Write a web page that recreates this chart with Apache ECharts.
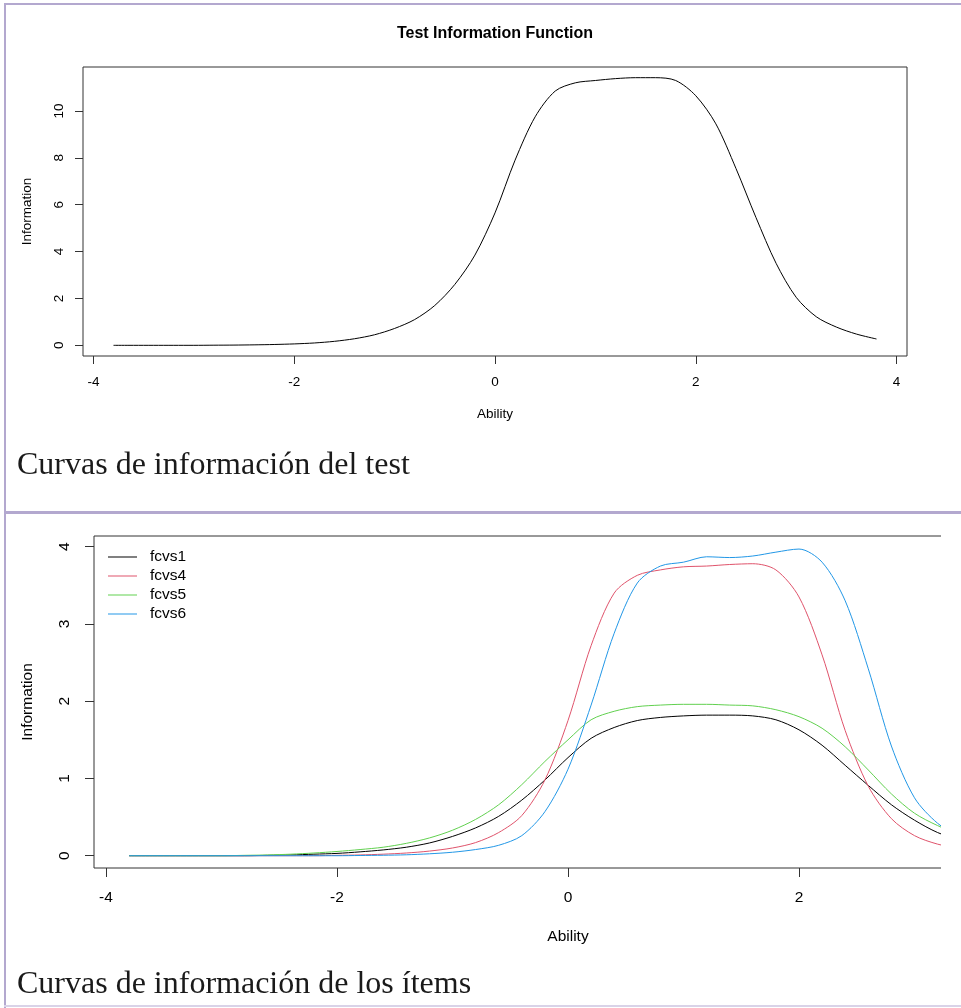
<!DOCTYPE html>
<html><head><meta charset="utf-8">
<script src="https://cdn.jsdelivr.net/npm/echarts@6/dist/echarts.min.js"></script>
<style>
html,body{margin:0;padding:0;background:#fff;width:961px;height:1008px;overflow:hidden;}
#top{position:absolute;left:0;top:0;width:961px;height:512px;}
#bot{position:absolute;left:0;top:512px;width:941px;height:496px;}
.b{position:absolute;background:#b3a8cf;}
</style></head><body>
<div id="top"></div><div id="bot"></div>
<div class="b" style="left:4px;top:3px;width:2px;height:1005px"></div>
<div class="b" style="left:4px;top:3px;width:957px;height:2px"></div>
<div class="b" style="left:4px;top:511px;width:957px;height:3px"></div>
<div class="b" style="left:4px;top:1005px;width:957px;height:2px;background:#d9d3e8"></div>
<script>
// ---- data ----
const ability = [-3.8,-3.6,-3.4,-3.2,-3.0,-2.8,-2.6,-2.4,-2.2,-2.0,-1.8,-1.6,-1.4,-1.2,-1.0,-0.8,-0.6,-0.4,-0.2,
                 0.0,0.2,0.4,0.6,0.8,1.0,1.2,1.4,1.6,1.8,2.0,2.2,2.4,2.6,2.8,3.0,3.2,3.4,3.6,3.8];
const testInfo = [0,0,0,0,0,0.005,0.01,0.02,0.035,0.06,0.1,0.17,0.28,0.45,0.72,1.1,1.7,2.6,3.85,
                  5.65,7.9,9.75,10.85,11.2,11.3,11.38,11.42,11.42,11.3,10.65,9.45,7.55,5.45,3.5,2.05,1.22,0.78,0.48,0.27];
const fcvs1 = [0,0,0,0,0,0,0.005,0.01,0.02,0.03,0.05,0.075,0.11,0.165,0.25,0.36,0.51,0.72,0.98,
               1.27,1.52,1.66,1.75,1.79,1.81,1.82,1.82,1.81,1.76,1.63,1.43,1.17,0.91,0.66,0.46,0.3,0.2,0.13,0.07];
const fcvs4 = [0,0,0,0,0,0,0,0,0,0.005,0.01,0.02,0.035,0.06,0.1,0.17,0.3,0.52,0.98,
               1.75,2.72,3.4,3.63,3.7,3.74,3.75,3.77,3.78,3.7,3.35,2.6,1.62,0.9,0.48,0.26,0.15,0.09,0.05,0.03];
const fcvs5 = [0,0,0,0,0,0.005,0.01,0.02,0.035,0.055,0.08,0.11,0.16,0.23,0.33,0.47,0.66,0.92,1.22,
               1.5,1.76,1.87,1.93,1.95,1.96,1.96,1.95,1.94,1.89,1.8,1.65,1.41,1.11,0.8,0.55,0.39,0.27,0.18,0.1];
const fcvs6 = [0,0,0,0,0,0,0,0,0,0,0.003,0.006,0.012,0.025,0.045,0.08,0.135,0.26,0.57,
               1.12,1.95,2.88,3.53,3.75,3.8,3.87,3.86,3.88,3.93,3.97,3.8,3.3,2.42,1.42,0.75,0.42,0.24,0.14,0.07];
const itemNames = ['fcvs1','fcvs4','fcvs5','fcvs6'];
const itemColors = ['#000000','#DF536B','#61D04F','#2297E6'];
const xTicks = [-4,-2,0,2,4];
const yTicksTop = [0,2,4,6,8,10];
const yTicksBot = [0,1,2,3,4];
const titleTop = 'Test Information Function';
const xName = 'Ability';
const yName = 'Information';
const captionTop = 'Curvas de información del test';
const captionBot = 'Curvas de información de los ítems';

const SANS = "'Liberation Sans', Arial, sans-serif";
const SERIF = "'Liberation Serif', 'Times New Roman', serif";
const pairs = ys => ability.map((x, i) => [x, ys[i]]);

function axes(fs, xMargin, xGap, yMargin, yGap, tickLen, yMin, yMax, yTicks) {
  const lab = {fontFamily: SANS, fontSize: fs, color: '#000'};
  return {
    xAxis: {type:'value', min:-4.104, max:4.104, name:xName, nameLocation:'middle', nameGap:xGap,
      nameTextStyle: lab, axisLine:{show:false, onZero:false}, splitLine:{show:false},
      axisTick:{show:true, inside:false, length:tickLen, customValues:xTicks, lineStyle:{color:'#333', width:1}},
      axisLabel:{customValues:xTicks, margin:xMargin, ...lab}},
    yAxis: {type:'value', min:yMin, max:yMax, name:yName, nameLocation:'middle', nameGap:yGap, nameRotate:90,
      nameTextStyle: lab, axisLine:{show:false, onZero:false}, splitLine:{show:false},
      axisTick:{show:true, inside:false, length:tickLen, customValues:yTicks, lineStyle:{color:'#333', width:1}},
      axisLabel:{customValues:yTicks, margin:yMargin, rotate:90, ...lab}}
  };
}

const topChart = echarts.init(document.getElementById('top'));
topChart.setOption(Object.assign({
  animation:false,
  grid:{left:83, top:67, width:824, height:289, show:true, borderColor:'#333', borderWidth:1, outerBoundsMode:'none'},
  graphic:[
    {type:'text', x:495, y:34, style:{text:titleTop, fontFamily:SANS, fontSize:16, fontWeight:'bold', fill:'#000', align:'center', verticalAlign:'middle'}},
    {type:'text', x:17, y:466, style:{text:captionTop, fontFamily:SERIF, fontSize:32, fill:'#1a1a1a', align:'left', verticalAlign:'middle'}}
  ],
  series:[{type:'line', data:pairs(testInfo), showSymbol:false, smooth:0.3, color:'#000', lineStyle:{width:1, color:'#000'}}]
}, axes(13.5, 19, 51, 17, 49, 8, -0.456, 11.876, yTicksTop)));

const botChart = echarts.init(document.getElementById('bot'));
const itemData = [fcvs1, fcvs4, fcvs5, fcvs6];
botChart.setOption(Object.assign({
  animation:false,
  grid:{left:94, top:24, width:948, height:332, show:true, borderColor:'#333', borderWidth:1, outerBoundsMode:'none'},
  legend:{orient:'vertical', left:103, top:30.5, itemWidth:29, itemHeight:1, itemGap:0, icon:'rect',
    data:itemNames, textStyle:{fontFamily:SANS, fontSize:15.5, color:'#000', lineHeight:19, padding:[0,0,0,8]}},
  graphic:[
    {type:'text', x:17, y:473, style:{text:captionBot, fontFamily:SERIF, fontSize:32, fill:'#1a1a1a', align:'left', verticalAlign:'middle'}}
  ],
  series: itemNames.map((n, k) => ({type:'line', name:n, data:pairs(itemData[k]), showSymbol:false, smooth:0.3,
    color:itemColors[k], lineStyle:{width:1, color:itemColors[k]}}))
}, axes(15.5, 22, 61, 21, 58, 9, -0.159, 4.139, yTicksBot)));
</script>
</body></html>
